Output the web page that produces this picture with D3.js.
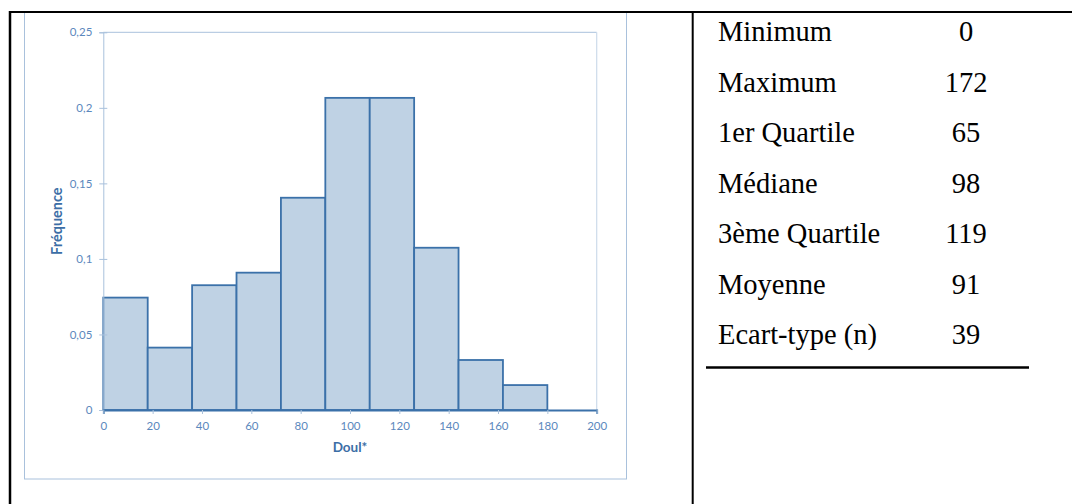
<!DOCTYPE html>
<html>
<head>
<meta charset="utf-8">
<script src="https://cdn.jsdelivr.net/npm/d3@7"></script>
<style>
  html, body { margin: 0; padding: 0; background: #fff; }
  svg { display: block; }
</style>
</head>
<body>
<svg id="chart" width="1072" height="504"></svg>
<script>
// ---- data ----
const binEdges = [0, 18, 36, 54, 72, 90, 108, 126, 144, 162, 180];
const frequencies = [0.0744, 0.0413, 0.0826, 0.0909, 0.1405, 0.2066, 0.2066, 0.1074, 0.0331, 0.0165];
const xTicks = [0, 20, 40, 60, 80, 100, 120, 140, 160, 180, 200];
const yTicks = [0, 0.05, 0.1, 0.15, 0.2, 0.25];
const yTickLabels = ["0", "0,05", "0,1", "0,15", "0,2", "0,25"];
const xTitle = "Doul*";
const yTitle = "Fréquence";
const statLabels = ["Minimum", "Maximum", "1er Quartile", "Médiane", "3ème Quartile", "Moyenne", "Ecart-type (n)"];
const statValues = ["0", "172", "65", "98", "119", "91", "39"];

// ---- drawing ----
const svg = d3.select("#chart");
const plot = { left: 103.3, right: 596.7, top: 32.3, bottom: 410 };

const x = d3.scaleLinear().domain([0, 200]).range([plot.left, plot.right]);
const y = d3.scaleLinear().domain([0, 0.25]).range([plot.bottom, plot.top]);

const tickColor = "#5b88bd";
const titleColor = "#3c6ea6";
const lightBlue = "#a9c1dc";
const sansFont = "Lato, 'Open Sans', sans-serif";

// chart outer frame
svg.append("rect")
  .attr("x", 24.5).attr("y", 12.5)
  .attr("width", 602).attr("height", 466.5)
  .attr("fill", "#fff").attr("stroke", lightBlue).attr("stroke-width", 1);

// plot area border (top and right)
svg.append("line")
  .attr("x1", plot.left).attr("x2", plot.right)
  .attr("y1", plot.top).attr("y2", plot.top)
  .attr("stroke", lightBlue).attr("stroke-width", 1);
svg.append("line")
  .attr("x1", plot.right).attr("x2", plot.right)
  .attr("y1", plot.top).attr("y2", plot.bottom)
  .attr("stroke", "#cddbea").attr("stroke-width", 1.2);

// bars
const bins = frequencies.map((f, i) => ({ x0: binEdges[i], x1: binEdges[i + 1], f }));
svg.append("g").selectAll("rect").data(bins).join("rect")
  .attr("x", d => x(d.x0))
  .attr("y", d => y(d.f))
  .attr("width", d => x(d.x1) - x(d.x0))
  .attr("height", d => y(0) - y(d.f))
  .attr("fill", "#bfd2e4")
  .attr("stroke", "#3b71a9")
  .attr("stroke-width", 1.8);

// y axis
const yAxis = d3.axisLeft(y).tickValues(yTicks)
  .tickFormat((d, i) => yTickLabels[i]).tickSize(4).tickPadding(7);
const gy = svg.append("g").attr("transform", `translate(${plot.left},0)`).call(yAxis);
gy.select(".domain").attr("stroke", lightBlue).attr("stroke-width", 1);
gy.selectAll(".tick line").attr("stroke", lightBlue).attr("x2", 4).attr("x1", -4);
gy.selectAll(".tick text")
  .attr("fill", tickColor).attr("font-family", sansFont).attr("font-size", 11.5);

// x axis
const xAxis = d3.axisBottom(x).tickValues(xTicks).tickFormat(d3.format("d")).tickSize(4).tickPadding(8);
const gx = svg.append("g").attr("transform", `translate(0,${plot.bottom})`).call(xAxis);
gx.select(".domain").attr("stroke", "#3b71a9").attr("stroke-width", 1.8);
gx.selectAll(".tick line").attr("stroke", lightBlue);
gx.selectAll(".tick text")
  .attr("fill", tickColor).attr("font-family", sansFont).attr("font-size", 11.5);

// axis titles
svg.append("text")
  .attr("x", (plot.left + plot.right) / 2).attr("y", 452)
  .attr("text-anchor", "middle")
  .attr("fill", titleColor).attr("font-family", sansFont)
  .attr("font-weight", "bold").attr("font-size", 13.5)
  .text(xTitle);
svg.append("text")
  .attr("transform", `translate(62,${(plot.top + plot.bottom) / 2}) rotate(-90)`)
  .attr("text-anchor", "middle")
  .attr("fill", titleColor).attr("font-family", sansFont)
  .attr("font-weight", "bold").attr("font-size", 14.5)
  .text(yTitle);

// page borders (black)
svg.append("line").attr("x1", 9).attr("x2", 1072).attr("y1", 12).attr("y2", 12)
  .attr("stroke", "#000").attr("stroke-width", 2);
svg.append("line").attr("x1", 10).attr("x2", 10).attr("y1", 11).attr("y2", 504)
  .attr("stroke", "#000").attr("stroke-width", 2.5);
svg.append("line").attr("x1", 692.7).attr("x2", 692.7).attr("y1", 11).attr("y2", 504)
  .attr("stroke", "#000").attr("stroke-width", 2);

// stats table
const rowY = d3.scalePoint().domain(d3.range(statLabels.length)).range([41, 344]);
const tbl = svg.append("g")
  .attr("font-family", "'Liberation Serif', 'Times New Roman', serif")
  .attr("font-size", 28.5).attr("fill", "#000");
tbl.selectAll("text.lab").data(statLabels).join("text")
  .attr("class", "lab")
  .attr("x", 718).attr("y", (d, i) => rowY(i))
  .text(d => d);
tbl.selectAll("text.val").data(statValues).join("text")
  .attr("class", "val")
  .attr("x", 966).attr("y", (d, i) => rowY(i))
  .attr("text-anchor", "middle")
  .text(d => d);
svg.append("line").attr("x1", 706).attr("x2", 1029).attr("y1", 367.5).attr("y2", 367.5)
  .attr("stroke", "#000").attr("stroke-width", 2.5);
</script>
</body>
</html>
